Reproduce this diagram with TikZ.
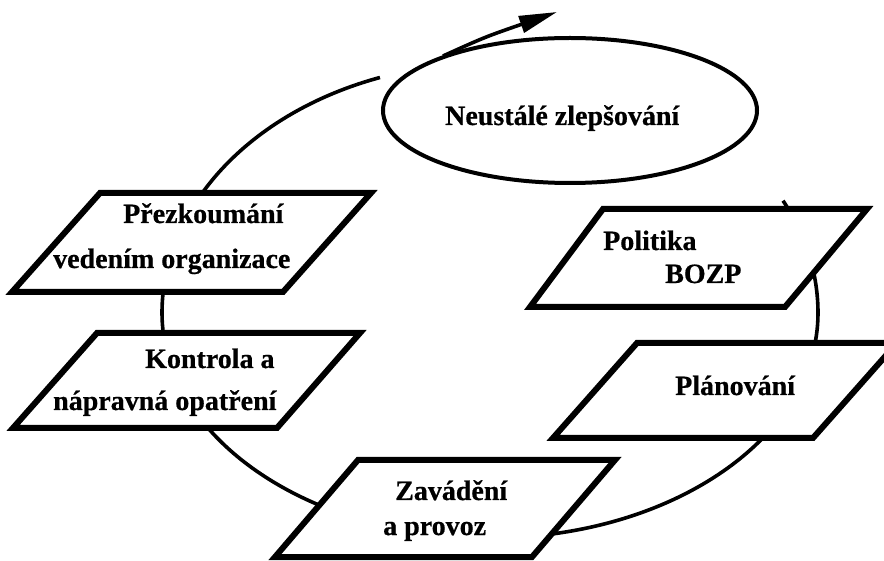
\documentclass[tikz,border=0pt]{standalone}
\usepackage{fontspec}
\setmainfont{Liberation Serif}[BoldFeatures={FakeBold=0.6}]
\usetikzlibrary{arrows.meta,calc}
\begin{document}
\begin{tikzpicture}[x=1pt,y=1pt,
  cycleline/.style={line width=3.6pt},
  stagebox/.style={draw, line width=6pt, fill=white, line join=miter},
  stagetext/.style={inner sep=0pt, anchor=base west, font=\fontsize{28}{34}\selectfont\bfseries},
]
\useasboundingbox (0,0) rectangle (884,560);

% the management cycle running through all stages
\coordinate (cyc) at (490,247);
\draw[cycleline] ($(cyc)+(109.6:328 and 250)$)
  arc[start angle=109.6, end angle=180, x radius=328, y radius=250]
  arc[start angle=180, end angle=360, x radius=328, y radius=225]
  arc[start angle=0, end angle=26.7, x radius=328, y radius=250];

% continual improvement: ellipse with an outgoing spiral arrow
\coordinate (goal) at (570,449.5);
\draw[cycleline, line width=4pt] (goal) ellipse[x radius=187, y radius=72.5];
\coordinate (spiralstart) at (443,504);
\coordinate (spiraltip) at (557,548);
\draw[cycleline, -{Triangle[length=38pt,width=17pt]}]
  (spiralstart) .. controls (485,523) .. (spiraltip);
\node[stagetext] (goaltxt) at (445,435) {Neustálé zlepšování};

% stages
\draw[stagebox] (12,268) -- (283,268) -- (371,367) -- (100,367) -- cycle;
\draw[stagebox] (13,132) -- (277,132) -- (360,227) -- (97,227) -- cycle;
\draw[stagebox] (530,253) -- (785,253) -- (867,351) -- (603,351) -- cycle;
\draw[stagebox] (553,122) -- (813,122) -- (897,217) -- (637,217) -- cycle;
\draw[stagebox] (275,3) -- (532,3) -- (615,100) -- (358,100) -- cycle;

\node[stagetext] (rev1) at (123,337) {Přezkoumání};
\node[stagetext] (rev2) at (53,292) {vedením organizace};
\node[stagetext] (chk1) at (145,192) {Kontrola a};
\node[stagetext] (chk2) at (53,150) {nápravná opatření};
\node[stagetext] (pol1) at (603,310) {Politika};
\node[stagetext] (pol2) at (665,277) {BOZP};
\node[stagetext] (plan) at (675,165) {Plánování};
\node[stagetext] (imp1) at (395,60) {Zavádění};
\node[stagetext] (imp2) at (383,25) {a provoz};
\end{tikzpicture}
\end{document}
